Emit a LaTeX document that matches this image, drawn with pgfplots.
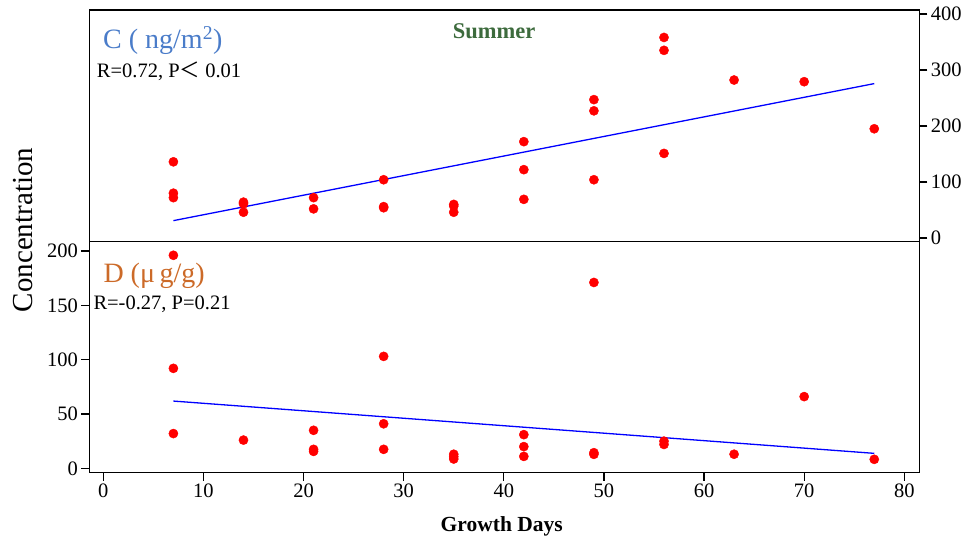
\documentclass[border=0pt]{standalone}
\usepackage{fontspec}
\setmainfont{Liberation Serif}
\newfontfamily\cjk{Noto Sans CJK SC}
\usepackage{pgfplots}
\pgfplotsset{compat=1.18}
\definecolor{cblue}{HTML}{4A7CC9}
\definecolor{dorange}{HTML}{CC6A28}
\definecolor{sgreen}{HTML}{3D6B3D}

\begin{document}
\begin{tikzpicture}
\useasboundingbox (0pt,0pt) rectangle (974pt,541pt);
\pgfplotsset{
  panel/.style={width=830pt, scale only axis, xmin=-1.4, xmax=81.5,
    axis line style={line width=1.3pt}, tick style={line width=1.3pt, black},
    major tick length=8pt, tick align=outside,
    ticklabel style={font=\rmfamily\fontsize{20.5}{22}\selectfont}},
  dots/.style={only marks, mark=*, mark size=4.6pt, mark options={draw=red, fill=red}},
  fit/.style={blue, line width=1.3pt}
}
% bottom panel: D
\begin{axis}[panel, at={(89.3pt,68.3pt)}, anchor=south west, height=231pt,
  ymin=-4, ymax=208.5,
  ytick={0,50,100,150,200}, yticklabels={0,50,100,150,200},
  xtick={0,10,20,30,40,50,60,70,80}, xticklabels={0,10,20,30,40,50,60,70,80},
  xtick pos=left, ytick pos=left]
\addplot[dots] coordinates {
  (7,196) (7,92) (7,32) (14,26) (21,35) (21,17.5) (21,15.6)
  (28,103) (28,41) (28,17.5) (35,13) (35,10.7) (35,8.6)
  (42,31) (42,20) (42,11) (49,171) (49,14.4) (49,12.9)
  (56,25) (56,22) (63,13) (70,66) (77,8.3)};
\addplot[fit] coordinates {(7,61.9) (77,13.8)};
\end{axis}
% top panel: C
\begin{axis}[panel, at={(89.3pt,299.3pt)}, anchor=south west, height=231.7pt,
  ymin=-6.6, ymax=407,
  ytick={0,100,200,300,400}, yticklabels={0,100,200,300,400},
  ytick pos=right, xtick=\empty]
\addplot[dots] coordinates {
  (7,136) (7,80) (7,72) (14,64) (14,61) (14,46) (21,72) (21,52)
  (28,104) (28,56) (28,54) (35,60) (35,57) (35,46)
  (42,172) (42,122) (42,69) (49,247) (49,227) (49,104)
  (56,358) (56,335) (56,151) (63,282) (70,279) (77,195)};
\addplot[fit] coordinates {(7,31) (77,275.6)};
\end{axis}
\node[anchor=base west, inner sep=0, text=cblue, font=\fontsize{28}{30}\selectfont] at (103pt,492.7pt) {C ( ng/m\textsuperscript{2})};
\node[anchor=base west, inner sep=0, font=\fontsize{20.5}{22}\selectfont] at (96.7pt,463.7pt) {R=0.72, P{\cjk ＜} 0.01};
\node[anchor=base, inner sep=0, text=sgreen, font=\fontsize{22.5}{24}\selectfont\bfseries] at (494pt,502.7pt) {Summer};
\node[anchor=base west, inner sep=0, text=dorange, font=\fontsize{28}{30}\selectfont] at (103.3pt,258.3pt) {D (μ\,g/g)};
\node[anchor=base west, inner sep=0, font=\fontsize{20.5}{22}\selectfont] at (93.3pt,231pt) {R=-0.27, P=0.21};
\node[anchor=base, inner sep=0, font=\fontsize{21.5}{23}\selectfont\bfseries] at (501.7pt,9.3pt) {Growth Days};
\node[anchor=base, inner sep=0, rotate=90, font=\fontsize{29}{31}\selectfont] at (32.5pt,311pt) {Concentration};
\end{tikzpicture}
\end{document}
